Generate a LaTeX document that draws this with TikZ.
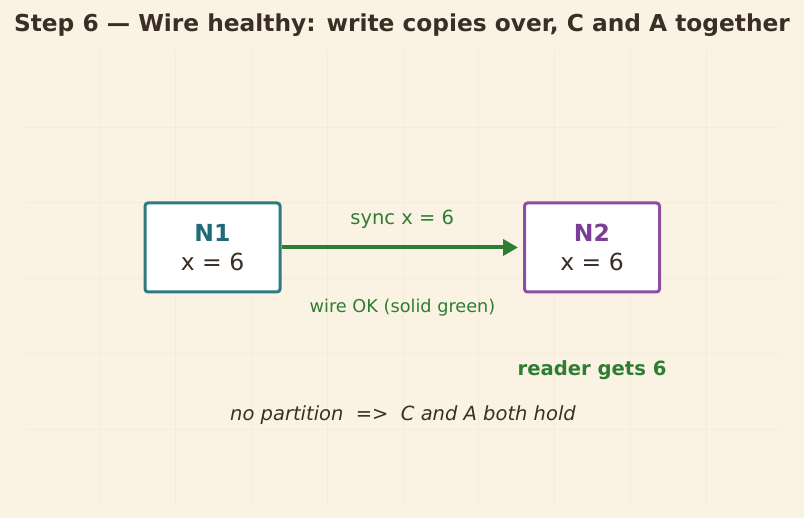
\documentclass[tikz,border=0pt]{standalone}
\usepackage{fontspec}
\setmainfont{DejaVu Sans}
\usetikzlibrary{arrows.meta,positioning}
\definecolor{paper}{HTML}{FAF3E4}
\definecolor{gridline}{HTML}{F4EBDA}
\definecolor{ink}{HTML}{3A2E27}
\definecolor{tealc}{HTML}{2E7A80}
\definecolor{tealtext}{HTML}{1F6B7A}
\definecolor{purplec}{HTML}{8A4FA3}
\definecolor{purpletext}{HTML}{7A3E98}
\definecolor{wiregreen}{HTML}{2E7D32}
\tikzset{
  nodebox/.style={draw, line width=3pt, rounded corners=3pt, fill=white,
    minimum width=135pt, minimum height=89pt, align=center,
    font=\fontsize{23.5}{29}\selectfont, text=ink},
  wirelabel/.style={text=wiregreen, font=\fontsize{19.5}{22}\selectfont}
}
\begin{document}
\begin{tikzpicture}[x=1pt,y=-1pt]
	\fill[paper] (0,0) rectangle (804,518);
	\useasboundingbox (0,0) rectangle (804,518);

	% faint background grid
	\foreach \gx in {100,175.5,251,327,403,478.5,554,630,706}
		\draw[gridline, line width=0.8pt] (\gx,50) -- (\gx,505);
	\foreach \gy in {127,202.5,278,353.5,429}
		\draw[gridline, line width=0.8pt] (25,\gy) -- (780,\gy);

	\node[text=ink, font=\fontsize{23.3}{28}\selectfont\bfseries] (title) at (402,25)
		{Step 6 — Wire healthy: write copies over, C and A together};

	% the two nodes
	\node[nodebox, draw=tealc] (n1) at (212.5,247.5)
		{\textcolor{tealtext}{\bfseries N1}\\x = 6};
	\node[nodebox, draw=purplec] (n2) at (592,247.5)
		{\textcolor{purpletext}{\bfseries N2}\\x = 6};

	% healthy wire
	\draw[wiregreen, line width=4pt, shorten >=5pt, -{Triangle[length=15pt,width=16pt]}]
		(n1.east) -- (n2.west) node[midway, above=14pt, wirelabel] (sync) {sync x = 6};
	\node[wirelabel, font=\fontsize{17.7}{20}\selectfont] (wireok) at (402.5,307.5)
		{wire OK (solid green)};

	\node[text=wiregreen, font=\fontsize{19.6}{22}\selectfont\bfseries] (reader) at (592,370.5)
		{reader gets 6};
	\node[text=ink, font=\fontsize{19.5}{22}\selectfont\itshape] (verdict) at (403,415)
		{no partition~~=>~~C and A both hold};
\end{tikzpicture}
\end{document}
